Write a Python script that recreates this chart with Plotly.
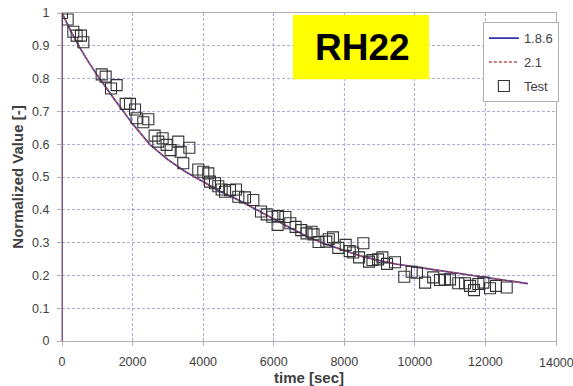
import plotly.graph_objects as go

# Model curves (both versions essentially overlap)
model_t = [0, 0, 250, 500, 750, 1000, 1500, 2000, 2500, 3000, 3500, 4000, 4500, 5000,
           5500, 6000, 6500, 7000, 7500, 8000, 8500, 9000, 9500, 10000, 10500,
           11000, 11500, 12000, 12500, 13200]
model_186 = [0.0, 1.0, 0.945, 0.895, 0.851, 0.81, 0.735, 0.662, 0.598, 0.553, 0.516, 0.485,
             0.455, 0.43, 0.40, 0.372, 0.343, 0.316, 0.294, 0.275, 0.258, 0.245,
             0.234, 0.226, 0.218, 0.209, 0.201, 0.193, 0.185, 0.175]
model_21 = [0.0, 1.0, 0.945, 0.895, 0.851, 0.81, 0.735, 0.662, 0.598, 0.553, 0.516, 0.485,
            0.455, 0.43, 0.40, 0.372, 0.343, 0.316, 0.294, 0.275, 0.258, 0.245,
            0.234, 0.226, 0.218, 0.209, 0.201, 0.193, 0.185, 0.175]

# Test data
test_t = [0, 160, 321, 415, 538, 605, 1124, 1237, 1389, 1548, 1804, 1927, 2069, 2114,
          2304, 2446, 2625, 2729, 2852, 2965, 3079, 3295, 3363, 3437, 3608, 3862,
          4004, 4146, 4194, 4336, 4429, 4525, 4620, 4761, 4931, 4997, 5186, 5422,
          5640, 5800, 5960, 6110, 6120, 6330, 6470, 6620, 6780, 6930, 7070, 7130,
          7270, 7490, 7560, 7680, 7830, 8040, 8154, 8250, 8420, 8540, 8700, 8800,
          8957, 9080, 9212, 9437, 9700, 9910, 10060, 10290, 10520, 10713, 10850,
          10996, 11231, 11421, 11563, 11676, 11799, 11941, 12130, 12300, 12603]
test_v = [1.0, 0.98, 0.943, 0.931, 0.931, 0.911, 0.813, 0.806, 0.770, 0.780, 0.723, 0.723,
          0.706, 0.679, 0.667, 0.676, 0.626, 0.608, 0.618, 0.598, 0.582, 0.608, 0.577,
          0.542, 0.589, 0.523, 0.516, 0.511, 0.486, 0.481, 0.472, 0.462, 0.455, 0.460,
          0.462, 0.440, 0.438, 0.430, 0.395, 0.386, 0.379, 0.354, 0.381, 0.378, 0.359,
          0.348, 0.338, 0.328, 0.333, 0.325, 0.302, 0.303, 0.310, 0.316, 0.284, 0.293,
          0.274, 0.270, 0.255, 0.298, 0.242, 0.247, 0.249, 0.255, 0.235, 0.240, 0.196,
          0.211, 0.208, 0.178, 0.194, 0.186, 0.187, 0.188, 0.176, 0.176, 0.168, 0.155,
          0.174, 0.178, 0.161, 0.168, 0.163]

x_ticks = [0, 2000, 4000, 6000, 8000, 10000, 12000, 14000]
x_tick_text = ["0", "2000", "4000", "6000", "8000", "10000", "12000", "14000"]
y_ticks = [0, 0.1, 0.2, 0.3, 0.4, 0.5, 0.6, 0.7, 0.8, 0.9, 1]
y_tick_text = ["0", "0.1", "0.2", "0.3", "0.4", "0.5", "0.6", "0.7", "0.8", "0.9", "1"]

FONT = "Liberation Sans, Arial, sans-serif"
GRID = "#ababdb"
TXT = "#404040"

fig = go.Figure()
fig.add_trace(go.Scatter(x=model_t, y=model_186, mode="lines", name="1.8.6",
                         line=dict(color="#3333aa", width=1.6), legendgroup="a"))
fig.add_trace(go.Scatter(x=model_t, y=model_21, mode="lines", name="2.1",
                         line=dict(color="#c0504d", width=1.4, dash="3px,2px"),
                         legendgroup="b"))
fig.add_trace(go.Scatter(x=test_t, y=test_v, mode="markers", name="Test",
                         marker=dict(symbol="square-open", size=11, color="#333333",
                                     line=dict(width=1.1, color="#333333")),
                         legendgroup="c"))

fig.add_shape(type="rect", xref="paper", yref="paper", x0=0.4676, x1=0.743,
              y0=0.798, y1=0.994, fillcolor="#ffff00", line=dict(width=0), layer="above")
fig.add_annotation(xref="paper", yref="paper", x=0.608, y=0.896, text="<b>RH22</b>",
                   showarrow=False, font=dict(family=FONT, size=37, color="#000000"),
                   xanchor="center", yanchor="middle")

# the last x tick label sits at the very edge of the page; plotly hides it,
# so it is written as text at the tick position instead
fig.add_annotation(xref="x", yref="paper", x=x_ticks[-1], y=-0.066,
                   text=x_tick_text[-1], showarrow=False,
                   font=dict(family=FONT, size=12.5, color=TXT),
                   xanchor="center", yanchor="middle")
axis_tick_text = x_tick_text[:-1] + [""]

fig.update_layout(
    width=573, height=386,
    margin=dict(l=62, r=17, t=13, b=45),
    paper_bgcolor="white", plot_bgcolor="white",
    font=dict(family=FONT, size=12.5, color=TXT),
    showlegend=True,
    legend=dict(x=0.852, y=0.972, xanchor="left", yanchor="top",
                bgcolor="white", bordercolor="#b0b0b0", borderwidth=1,
                font=dict(family=FONT, size=13, color=TXT),
                traceorder="grouped", tracegroupgap=4, itemwidth=30),
    xaxis=dict(range=[0, 14000], tickvals=x_ticks, ticktext=axis_tick_text,
               showgrid=True, gridcolor=GRID, automargin=False,
               griddash="3px,2px", gridwidth=1, zeroline=False,
               showline=True, mirror=True, linecolor="#b0b0b0", linewidth=1,
               ticks="outside", ticklen=4, tickcolor="#b0b0b0", ticklabelstandoff=5,
               title=dict(text="<b>time [sec]</b>", font=dict(size=15, color=TXT),
                          standoff=1)),
    yaxis=dict(range=[0, 1], tickvals=y_ticks, ticktext=y_tick_text, showgrid=True,
               gridcolor=GRID, griddash="3px,2px", gridwidth=1, zeroline=False,
               showline=True, mirror=True, linecolor="#b0b0b0", linewidth=1,
               automargin=False,
               ticks="outside", ticklen=4, tickcolor="#b0b0b0", ticklabelstandoff=5,
               title=dict(text="<b>Normalized Value [-]</b>",
                          font=dict(size=15, color=TXT), standoff=4)),
)

fig.write_html("out.html")
